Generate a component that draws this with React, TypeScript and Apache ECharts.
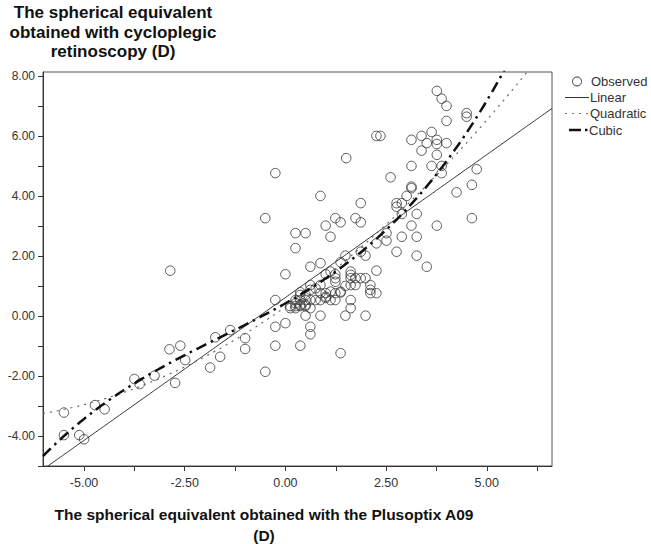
import { useEffect, useRef } from 'react';
import * as echarts from 'echarts';

// Observed points (Plusoptix A09 SE, cycloplegic retinoscopy SE)
const obsX = [
  3.76, 3.88, 4.0, 4.5, 4.5, 4.0, 2.26, 2.36, 3.13, 3.38, 3.63, 3.51, 3.76, 3.76, 4.0, 3.38, 3.76, 1.51, -0.25, 3.13,
  3.63, 3.88, 3.88, 2.61, 4.75, 4.63, 4.25, 3.13, 3.13, 3.01, 0.87, 1.87, 2.76, 2.89, 2.76, 2.89, 3.26, -0.5, 1.24, 1.37,
  1.74, 1.87, 1.0, 3.13, 3.76, 4.63, 0.25, 0.5, 1.12, 2.51, 2.26, 2.51, 2.89, 3.26, 0.25, 2.76, 3.26, 1.49, 1.87, 1.99,
  3.51, 0.62, 0.87, 1.37, 0.0, 1.0, 1.12, 1.24, 1.24, 1.24, 1.62, 1.62, 1.62, 1.74, 1.87, 1.99, 2.26, 2.11, 2.11, 2.11,
  2.26, 1.62, 1.74, 1.49, 1.37, 0.37, -0.25, 0.12, 0.25, 0.25, 0.37, 0.5, 0.62, 0.75, 0.87, 1.0, 1.24, 0.37, 0.5, 0.62,
  1.62, 1.62, 0.5, 0.87, 1.49, 1.99, 0.0, -0.25, 0.62, 0.62, -1.0, -1.0, -0.25, 0.37, 1.37, -0.5, -1.37, -1.74, -1.62, -1.87,
  -2.61, -2.49, 0.62, 0.62, 0.75, 0.87, 0.87, 1.0, 1.0, 1.12, 1.24, 1.37, 1.12, 0.25, 0.37, 0.5, 0.12, 0.25, 0.37, 0.5,
  -2.86, -2.88, -2.74, -3.75, -3.62, -3.25, -4.73, -4.49, -5.5, -5.5, -5.12, -5.0
];
const obsY = [
  7.5, 7.24, 7.0, 6.76, 6.64, 6.5, 6.0, 6.0, 5.87, 6.0, 6.13, 5.76, 5.87, 5.73, 5.76, 5.51, 5.37, 5.26, 4.76, 5.0,
  5.0, 5.0, 4.76, 4.62, 4.89, 4.37, 4.12, 4.26, 4.31, 4.0, 4.0, 3.76, 3.76, 3.76, 3.64, 3.4, 3.4, 3.26, 3.26, 3.12,
  3.26, 3.12, 3.01, 3.01, 3.01, 3.26, 2.76, 2.76, 2.64, 2.76, 2.42, 2.51, 2.64, 2.64, 2.26, 2.14, 2.01, 2.01, 2.14, 2.01,
  1.64, 1.64, 1.76, 1.79, 1.39, 1.39, 1.48, 1.39, 1.14, 1.26, 1.48, 1.37, 1.26, 1.26, 1.26, 1.26, 1.51, 1.03, 0.87, 0.76,
  0.76, 1.03, 1.03, 1.0, 0.78, 0.79, 0.53, 0.26, 0.26, 0.53, 0.53, 0.53, 0.53, 0.53, 0.53, 0.6, 0.53, 0.37, 0.37, 0.26,
  0.53, 0.26, 0.01, 0.01, 0.01, 0.01, -0.24, -0.36, -0.36, -0.61, -0.74, -1.1, -0.99, -0.99, -1.24, -1.86, -0.47, -0.71, -1.36, -1.72,
  -0.99, -1.47, 1.03, 0.87, 0.92, 1.03, 0.76, 0.76, 0.64, 0.81, 0.76, 0.81, 0.53, 0.42, 0.7, 0.7, 0.33, 0.33, 0.33, 0.33,
  1.51, -1.11, -2.23, -2.1, -2.27, -1.99, -2.97, -3.11, -3.22, -3.97, -3.97, -4.11
];

// Fitted curve coefficients (constant, x, x^2, x^3)
const linearCoef = [0.615, 0.952];
const quadraticCoef = [0.3, 0.948, 0.0595];
const cubicCoef = [0.42, 0.76, 0.058, 0.012];

const xTickValues = [-5, -3.75, -2.5, -1.25, 0, 1.25, 2.5, 3.75, 5, 6.25];
const xLabelValues = [-5, -2.5, 0, 2.5, 5];
const yTickValues = [-5, -4, -3, -2, -1, 0, 1, 2, 3, 4, 5, 6, 7, 8];
const yLabelValues = [-4, -2, 0, 2, 4, 6, 8];

const X_MIN = -6.02;
const X_MAX = 6.62;
const Y_MIN = -5;
const Y_MAX = 8.13;

const yTitle = 'The spherical equivalent\nobtained with cycloplegic\nretinoscopy (D)';
const xTitle = 'The spherical equivalent obtained with the Plusoptix A09\n(D)';
const legendNames = ['Observed', 'Linear', 'Quadratic', 'Cubic'];

const FONT = '"Liberation Sans", Arial, sans-serif';

function curve(coef: number[]) {
  const pts: number[][] = [];
  const n = 260;
  for (let i = 0; i <= n; i++) {
    const x = X_MIN + ((X_MAX - X_MIN) * i) / n;
    let y = 0;
    for (let k = coef.length - 1; k >= 0; k--) y = y * x + coef[k];
    pts.push([x, y]);
  }
  return pts;
}

export default function App() {
  const ref = useRef<HTMLDivElement>(null);
  useEffect(() => {
    if (!ref.current) return;
    const chart = echarts.init(ref.current, undefined, { renderer: 'svg' });
    const fmt = (v: number) => v.toFixed(2);
    const lineColor = '#333';
    chart.setOption({
      animation: false,
      backgroundColor: '#fff',
      grid: {
        left: 43,
        right: 99,
        top: 72,
        bottom: 78,
        show: true,
        borderColor: '#555',
        borderWidth: 1,
        backgroundColor: 'transparent',
      },
      xAxis: {
        type: 'value',
        min: X_MIN,
        max: X_MAX,
        axisLine: { show: true, onZero: false, lineStyle: { color: '#333', width: 1 } },
        axisTick: { show: true, length: 5, customValues: xTickValues, lineStyle: { color: '#333' } },
        axisLabel: {
          customValues: xLabelValues,
          formatter: fmt,
          color: '#333',
          fontSize: 12.5,
          fontFamily: FONT,
          margin: 10,
        },
        splitLine: { show: false },
      },
      yAxis: {
        type: 'value',
        min: Y_MIN,
        max: Y_MAX,
        axisLine: { show: true, onZero: false, lineStyle: { color: '#333', width: 1 } },
        axisTick: { show: true, length: 5, customValues: yTickValues, lineStyle: { color: '#333' } },
        axisLabel: {
          customValues: yLabelValues,
          formatter: fmt,
          color: '#333',
          fontSize: 12,
          fontFamily: FONT,
          margin: 8,
        },
        splitLine: { show: false },
      },
      series: [
        {
          type: 'scatter',
          name: legendNames[0],
          data: obsX.map((x, i) => [x, obsY[i]]),
          symbol: 'circle',
          symbolSize: 9.5,
          itemStyle: { color: 'rgba(0,0,0,0)', borderColor: '#333', borderWidth: 1 },
          z: 2,
        },
        {
          type: 'line',
          name: legendNames[1],
          data: curve(linearCoef),
          showSymbol: false,
          clip: true,
          lineStyle: { color: lineColor, width: 1 },
          z: 3,
        },
        {
          type: 'line',
          name: legendNames[2],
          data: curve(quadraticCoef),
          showSymbol: false,
          clip: true,
          lineStyle: { color: '#666', width: 1.2, type: [2, 5] },
          z: 3,
        },
        {
          type: 'line',
          name: legendNames[3],
          data: curve(cubicCoef),
          showSymbol: false,
          clip: true,
          lineStyle: { color: '#111', width: 2.5, type: [11, 5, 2.5, 5] },
          z: 4,
        },
      ],
      graphic: [
        {
          type: 'text',
          x: 113,
          y: 3,
          style: {
            text: yTitle,
            textAlign: 'center',
            font: `bold 17px ${FONT}`,
            lineHeight: 19.5,
            fill: '#111',
          },
        },
        {
          type: 'text',
          x: 264,
          y: 504,
          style: {
            text: xTitle,
            textAlign: 'center',
            font: `bold 15.5px ${FONT}`,
            lineHeight: 21,
            fill: '#111',
          },
        },
        // legend
        {
          type: 'circle',
          shape: { cx: 577, cy: 81.5, r: 4.5 },
          style: { fill: 'none', stroke: '#333', lineWidth: 1 },
        },
        {
          type: 'text',
          x: 591,
          y: 81.5,
          style: { text: legendNames[0], font: `13px ${FONT}`, fill: '#333', textVerticalAlign: 'middle' },
        },
        {
          type: 'line',
          shape: { x1: 565, y1: 97.5, x2: 589, y2: 97.5 },
          style: { stroke: '#333', lineWidth: 1 },
        },
        {
          type: 'text',
          x: 590,
          y: 97.5,
          style: { text: legendNames[1], font: `13px ${FONT}`, fill: '#333', textVerticalAlign: 'middle' },
        },
        {
          type: 'line',
          shape: { x1: 565, y1: 113.5, x2: 589, y2: 113.5 },
          style: { stroke: '#777', lineWidth: 1.2, lineDash: [2, 5] },
        },
        {
          type: 'text',
          x: 590,
          y: 113.5,
          style: { text: legendNames[2], font: `13px ${FONT}`, fill: '#333', textVerticalAlign: 'middle' },
        },
        {
          type: 'line',
          shape: { x1: 569, y1: 130, x2: 581, y2: 130 },
          style: { stroke: '#111', lineWidth: 2.5 },
        },
        {
          type: 'line',
          shape: { x1: 585, y1: 130, x2: 587.5, y2: 130 },
          style: { stroke: '#111', lineWidth: 2.5 },
        },
        {
          type: 'text',
          x: 589,
          y: 130,
          style: { text: legendNames[3], font: `13px ${FONT}`, fill: '#333', textVerticalAlign: 'middle' },
        },
      ],
    });
    return () => chart.dispose();
  }, []);
  return (
    <div
      ref={ref}
      style={{ position: 'fixed', left: 0, top: 0, width: 651, height: 544, background: '#fff' }}
    />
  );
}
